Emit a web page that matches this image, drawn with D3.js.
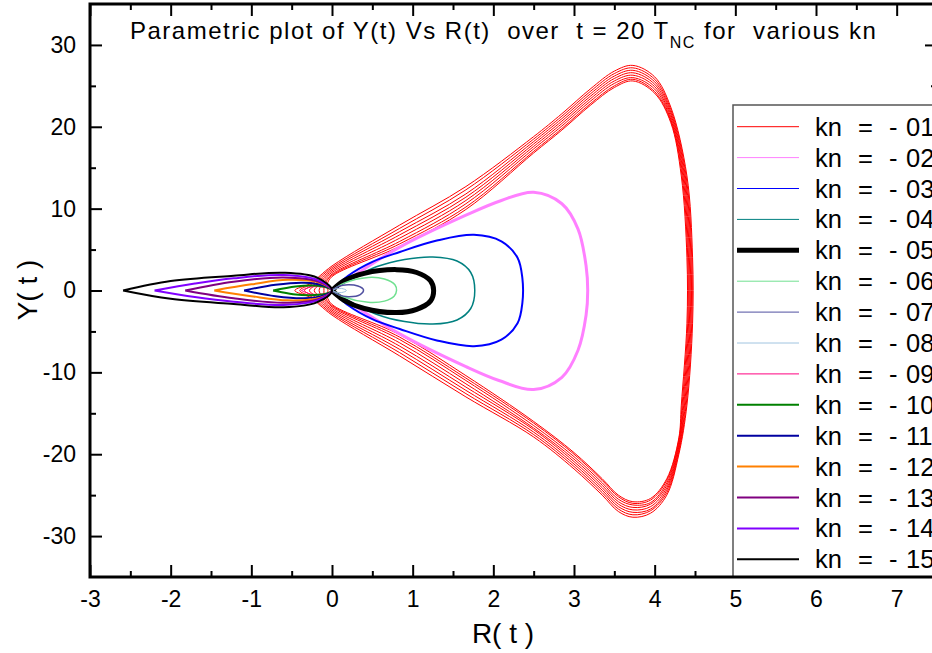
<!DOCTYPE html>
<html>
<head>
<meta charset="utf-8">
<script src="https://cdn.jsdelivr.net/npm/d3@7/dist/d3.min.js"></script>
<style>
  body { margin: 0; background: #fff; }
  svg { display: block; font-family: Arial, "Liberation Sans", sans-serif; }
  text { white-space: pre; }
</style>
</head>
<body>
<div id="chart"></div>
<script>
// ---- data ----
const knLabels = ["01", "02", "03", "04", "05", "06", "07", "08", "09", "10", "11", "12", "13", "14", "15"];
const knColors = ["#ff0000", "#ff80ff", "#0000ff", "#008080", "#000000", "#70e090", "#5050a0",
                  "#a0c4e0", "#ff0080", "#008000", "#0000a0", "#ff8000", "#800080", "#8000ff", "#000000"];
const plotWidths = [1, 3, 2, 1.5, 5, 1.5, 1.5, 1, 1, 2, 2, 2, 2, 2, 2];
const legendWidths = [1, 1, 1, 1, 5, 1, 1, 1, 1, 2, 2, 2, 2, 2, 2];

const xTicks = [-3, -2, -1, 0, 1, 2, 3, 4, 5, 6, 7];
const xMinor = [-2.5, -1.5, -0.5, 0.5, 1.5, 2.5, 3.5, 4.5, 5.5, 6.5, 7.5];
const yTicks = [-30, -20, -10, 0, 10, 20, 30];
const yMinor = [-25, -15, -5, 5, 15, 25];

// kn = -01 : eight drifting cycles, values per cycle (outer -> inner)
const redTipR = [-0.46, -0.40, -0.34, -0.28, -0.22, -0.16, -0.10, -0.05];
const redLoopR = [-0.27, -0.24, -0.21, -0.18, -0.15, -0.12, -0.09, -0.06];
const redLoopY = [0.85, 0.85, 0.8, 0.8, 0.8, 0.75, 0.75, 0.7];
const redSideR1 = [4.40, 4.39, 4.38, 4.37, 4.36, 4.35, 4.34, 4.33];   // at Y = +-14
const redSideR2 = [4.47, 4.46, 4.45, 4.44, 4.43, 4.42, 4.41, 4.40];   // at Y = +-4
const redUpper = [ // [R, Y cycle0 .. cycle7]
  [0.00, 3.0, 2.8, 2.6, 2.4, 2.2, 2.0, 1.85, 1.7],
  [0.84, 8.0, 7.6, 7.2, 6.8, 6.4, 6.0, 5.7, 5.4],
  [1.66, 12.7, 12.3, 11.8, 11.4, 11.0, 10.6, 10.2, 9.9],
  [2.50, 18.8, 18.5, 18.2, 17.9, 17.6, 17.3, 17.0, 16.8],
  [2.85, 21.6, 21.3, 21.0, 20.7, 20.4, 20.1, 19.8, 19.6],
  [3.20, 24.6, 24.3, 24.0, 23.7, 23.4, 23.1, 22.8, 22.6],
  [3.50, 26.8, 26.5, 26.2, 25.9, 25.6, 25.3, 25.0, 24.8],
  [3.73, 27.5, 27.2, 26.9, 26.6, 26.3, 26.0, 25.8, 25.6],
  [4.00, 26.1, 25.8, 25.5, 25.2, 24.9, 24.6, 24.3, 24.1],
  [4.20, 22.4, 22.1, 21.8, 21.5, 21.2, 20.9, 20.7, 20.5]
];
const redLower = [
  [4.30, -20.0, -19.7, -19.4, -19.1, -18.8, -18.5, -18.2, -18.0],
  [4.15, -25.0, -24.7, -24.4, -24.1, -23.8, -23.5, -23.2, -23.0],
  [3.95, -27.2, -26.9, -26.7, -26.4, -26.1, -25.9, -25.6, -25.4],
  [3.73, -27.7, -27.4, -27.1, -26.8, -26.5, -26.2, -26.0, -25.8],
  [3.55, -27.0, -26.7, -26.4, -26.1, -25.8, -25.5, -25.2, -25.0],
  [3.35, -25.0, -24.7, -24.4, -24.1, -23.8, -23.5, -23.2, -23.0],
  [3.00, -21.8, -21.5, -21.2, -20.9, -20.6, -20.3, -20.0, -19.8],
  [2.50, -17.9, -17.6, -17.3, -17.0, -16.8, -16.5, -16.2, -16.0],
  [1.66, -13.0, -12.6, -12.2, -11.8, -11.4, -11.0, -10.7, -10.4],
  [0.84, -8.0, -7.6, -7.2, -6.8, -6.4, -6.0, -5.7, -5.4],
  [0.00, -3.0, -2.8, -2.6, -2.4, -2.2, -2.0, -1.85, -1.7]
];

// right lobes (start and end at the origin)
const kn02 = [[0, 0], [0.3, 2.0], [0.84, 5.3], [1.66, 9.2], [2.1, 11.0], [2.5, 12.0], [2.85, 10.6], [3.05, 7.5],
  [3.15, 3.0], [3.17, 0], [3.15, -3.0], [3.05, -7.3], [2.85, -10.6], [2.5, -12.1], [2.07, -11.0], [1.66, -9.3],
  [0.84, -5.3], [0.3, -2.0], [0, 0]];
const kn03 = [[0, 0], [0.2, 1.8], [0.5, 3.5], [0.84, 4.7], [1.3, 6.1], [1.76, 6.8], [2.1, 6.0], [2.3, 4.0],
  [2.36, 1.5], [2.36, -1.5], [2.3, -4.0], [2.1, -6.0], [1.76, -6.8], [1.3, -6.1], [0.84, -4.7], [0.5, -3.5],
  [0.2, -1.8], [0, 0]];
const kn04 = [[0, 0], [0.2, 1.2], [0.55, 2.9], [0.9, 3.8], [1.25, 4.1], [1.55, 3.6], [1.72, 2.2], [1.77, 0],
  [1.72, -2.2], [1.55, -3.6], [1.25, -4.1], [0.9, -3.8], [0.55, -2.9], [0.2, -1.2], [0, 0]];
const kn05 = [[0, 0], [0.15, 1.2], [0.4, 2.1], [0.8, 2.55], [1.05, 2.2], [1.22, 1.2], [1.26, 0], [1.22, -1.3],
  [1.05, -2.3], [0.8, -2.7], [0.4, -2.2], [0.15, -1.2], [0, 0]];
const kn06 = [[0, 0], [0.15, 0.9], [0.45, 1.6], [0.65, 1.4], [0.78, 0.7], [0.8, 0], [0.77, -0.7], [0.65, -1.3],
  [0.45, -1.45], [0.15, -0.8], [0, 0]];
const kn07 = [[0, 0], [0.08, 0.5], [0.2, 0.7], [0.32, 0.55], [0.39, 0.1], [0.35, -0.5], [0.2, -0.75],
  [0.08, -0.5], [0, 0]];
const kn08 = [[0, 0], [0.05, 0.2], [0.12, 0.25], [0.18, 0], [0.12, -0.25], [0.05, -0.2], [0, 0]];
// left lobes (start and end at the far tip)
const kn09 = [[-0.38, 0], [-0.25, 0.45], [-0.08, 0.35], [0, 0], [-0.08, -0.35], [-0.25, -0.45], [-0.38, 0]];
const kn10 = [[-0.73, 0], [-0.45, 0.5], [-0.22, 0.6], [-0.06, 0.35], [0, 0], [-0.06, -0.35], [-0.22, -0.55],
  [-0.45, -0.5], [-0.73, 0]];
const kn11 = [[-1.09, 0], [-0.7, 0.7], [-0.35, 0.95], [-0.1, 0.6], [0, 0], [-0.1, -0.6], [-0.35, -0.95],
  [-0.7, -0.7], [-1.09, 0]];
const kn12 = [[-1.46, 0], [-1.0, 0.75], [-0.55, 1.3], [-0.15, 0.95], [0, 0], [-0.15, -0.9], [-0.55, -1.2],
  [-1.0, -0.7], [-1.46, 0]];
const kn13 = [[-1.82, 0], [-1.22, 1.07], [-0.6, 1.6], [-0.17, 1.1], [0, 0], [-0.17, -1.05], [-0.6, -1.5],
  [-1.22, -0.96], [-1.82, 0]];
const kn14 = [[-2.2, 0], [-1.7, 0.85], [-1.22, 1.49], [-0.6, 1.9], [-0.18, 1.3], [0, 0], [-0.18, -1.2],
  [-0.6, -1.77], [-1.22, -1.37], [-1.7, -0.8], [-2.2, 0]];
const kn15 = [[-2.59, 0], [-2.0, 1.15], [-1.22, 1.8], [-0.6, 2.17], [-0.19, 1.6], [0, 0], [-0.19, -1.45],
  [-0.6, -2.05], [-1.22, -1.65], [-2.0, -1.02], [-2.59, 0]];

// ---- layout ----
const width = 932, height = 653;
const plot = { left: 90, right: 937, top: 4, bottom: 577 };

const svg = d3.select("#chart").append("svg")
  .attr("width", width).attr("height", height);

const x = d3.scaleLinear().domain([-3, 7.5]).range([plot.left, plot.right]);
const y = d3.scaleLinear().domain([-35, 35]).range([plot.bottom, plot.top]);

svg.append("clipPath").attr("id", "clip")
  .append("rect").attr("x", plot.left).attr("y", plot.top)
  .attr("width", plot.right - plot.left).attr("height", plot.bottom - plot.top);

const curves = svg.append("g").attr("clip-path", "url(#clip)");

const closedLine = d3.line().x(d => x(d[0])).y(d => y(d[1])).curve(d3.curveCatmullRomClosed.alpha(0.5));
const openLine = d3.line().x(d => x(d[0])).y(d => y(d[1])).curve(d3.curveCatmullRom.alpha(0.5));

// red band: one closed loop per cycle
redTipR.forEach((tip, i) => {
  let pts = [[tip, 0], [redLoopR[i], redLoopY[i]]];
  redUpper.forEach(r => pts.push([r[0], r[i + 1]]));
  pts.push([redSideR1[i], 14], [redSideR2[i], 4], [redSideR2[i], -4], [redSideR1[i], -14]);
  redLower.forEach(r => pts.push([r[0], r[i + 1]]));
  pts.push([redLoopR[i], -redLoopY[i]]);
  curves.append("path").attr("d", closedLine(pts))
    .attr("fill", "none").attr("stroke", knColors[0]).attr("stroke-width", plotWidths[0]);
});

const loops = [kn02, kn03, kn04, kn05, kn06, kn07, kn08, kn09, kn10, kn11, kn12, kn13, kn14, kn15];
loops.forEach((pts, j) => {
  const i = j + 1;
  curves.append("path").attr("d", openLine(pts))
    .attr("fill", "none").attr("stroke", knColors[i]).attr("stroke-width", plotWidths[i])
    .attr("stroke-linejoin", "round");
});

// ---- axes (ticks inside) ----
function styleAxis(g, fontSize) {
  g.select(".domain").remove();
  g.selectAll(".tick line").attr("stroke", "#000").attr("stroke-width", 2);
  g.selectAll(".tick text").attr("fill", "#000").style("font-size", fontSize + "px")
    .style("font-family", "Arial, 'Liberation Sans', sans-serif");
}
const fmt = d => String(d);

svg.append("g").attr("transform", `translate(0,${plot.bottom})`)
  .call(d3.axisBottom(x).tickValues(xTicks).tickSize(-12).tickPadding(14).tickFormat(fmt))
  .call(g => styleAxis(g, 23));
svg.append("g").attr("transform", `translate(0,${plot.bottom})`)
  .call(d3.axisBottom(x).tickValues(xMinor).tickSize(-6).tickFormat(""))
  .call(g => styleAxis(g, 23));
svg.append("g").attr("transform", `translate(0,${plot.top})`)
  .call(d3.axisTop(x).tickValues(xTicks).tickSize(-12).tickFormat(""))
  .call(g => styleAxis(g, 23));
svg.append("g").attr("transform", `translate(0,${plot.top})`)
  .call(d3.axisTop(x).tickValues(xMinor).tickSize(-6).tickFormat(""))
  .call(g => styleAxis(g, 23));
svg.append("g").attr("transform", `translate(${plot.left},0)`)
  .call(d3.axisLeft(y).tickValues(yTicks).tickSize(-12).tickPadding(14).tickFormat(fmt))
  .call(g => styleAxis(g, 23));
svg.append("g").attr("transform", `translate(${plot.left},0)`)
  .call(d3.axisLeft(y).tickValues(yMinor).tickSize(-6).tickFormat(""))
  .call(g => styleAxis(g, 23));
svg.append("g").attr("transform", `translate(${plot.right},0)`)
  .call(d3.axisRight(y).tickValues(yTicks).tickSize(-12).tickFormat(""))
  .call(g => styleAxis(g, 23));
svg.append("g").attr("transform", `translate(${plot.right},0)`)
  .call(d3.axisRight(y).tickValues(yMinor).tickSize(-6).tickFormat(""))
  .call(g => styleAxis(g, 23));

// ---- legend (runs past the right edge, as in the original) ----
const legend = svg.append("g");
const legTop = 105, legLeft = 733, rowH = 30.9, firstRow = 126.7;
legend.append("rect").attr("x", legLeft).attr("y", legTop)
  .attr("width", 240).attr("height", plot.bottom - legTop)
  .attr("fill", "#fff").attr("stroke", "#555").attr("stroke-width", 1.5);
knLabels.forEach((lab, i) => {
  const ry = firstRow + i * rowH;
  legend.append("line").attr("x1", 737).attr("x2", 799).attr("y1", ry).attr("y2", ry)
    .attr("stroke", knColors[i]).attr("stroke-width", legendWidths[i]);
  const t = legend.append("text").attr("y", ry + 9)
    .style("font-size", "25.5px").attr("fill", "#000");
  t.append("tspan").attr("x", 815).text("kn");
  t.append("tspan").attr("x", 858).text("=");
  t.append("tspan").attr("x", 889).text("-");
  t.append("tspan").attr("x", 906).text(lab);
});

// frame
svg.append("rect").attr("x", plot.left).attr("y", plot.top)
  .attr("width", plot.right - plot.left).attr("height", plot.bottom - plot.top)
  .attr("fill", "none").attr("stroke", "#000").attr("stroke-width", 3);

// ---- titles ----
const title = svg.append("text").attr("x", 130).attr("y", 39)
  .style("font-size", "24px").style("letter-spacing", "1.5px").attr("fill", "#000");
title.append("tspan").text("Parametric plot of Y(t) Vs R(t)  over  t = 20 T");
title.append("tspan").attr("dy", 9).style("font-size", "16px").text("NC");
title.append("tspan").attr("dy", -9).text(" for  various kn");

svg.append("text").attr("x", 503).attr("y", 643).attr("text-anchor", "middle")
  .style("font-size", "28px").attr("fill", "#000").text("R( t )");
svg.append("text").attr("transform", "translate(37,290) rotate(-90)").attr("text-anchor", "middle")
  .style("font-size", "28px").attr("fill", "#000").text("Y( t )");
</script>
</body>
</html>
